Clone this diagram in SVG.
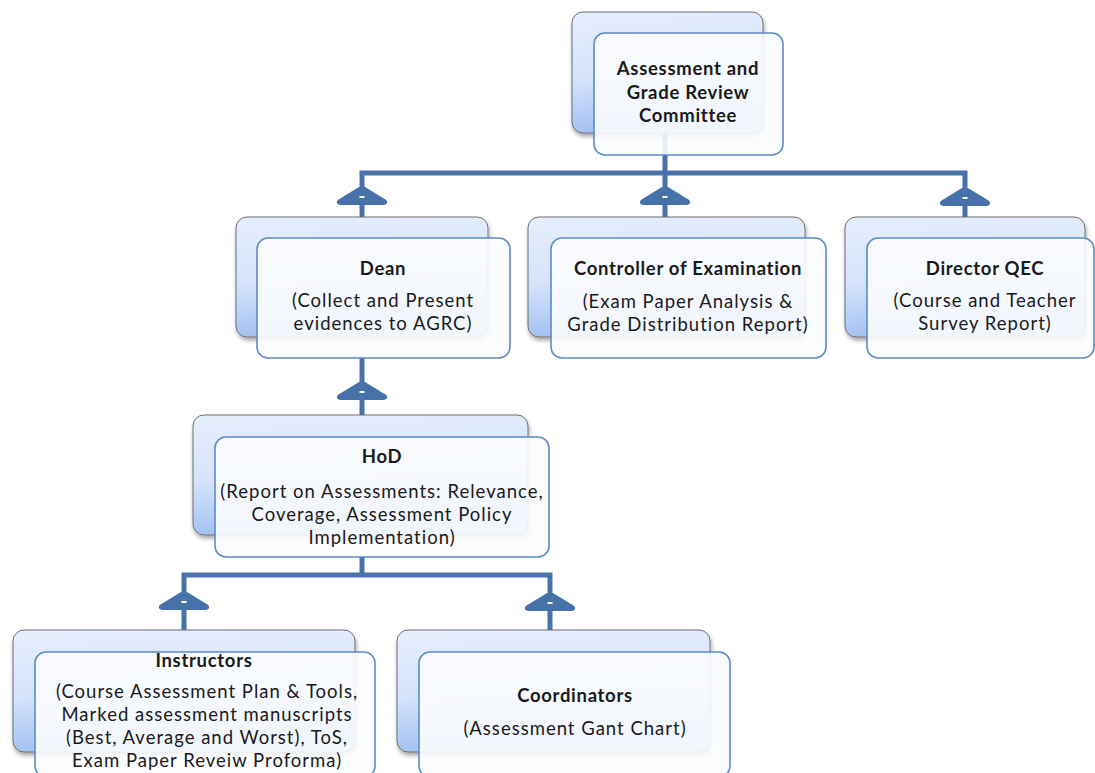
<svg xmlns="http://www.w3.org/2000/svg" width="1095" height="773" viewBox="0 0 1095 773">
<defs>
<linearGradient id="bg" x1="0" y1="0" x2="0.15" y2="1">
<stop offset="0" stop-color="#e6eefc"/>
<stop offset="0.55" stop-color="#d5e3fb"/>
<stop offset="1" stop-color="#a3c0f3"/>
</linearGradient>
<filter id="sh" x="-10%" y="-10%" width="130%" height="130%">
<feDropShadow dx="1" dy="3" stdDeviation="2" flood-color="#000" flood-opacity="0.35"/>
</filter>
<g id="arr">
<path d="M-3,0 L3,0 L21,11 Q26,13.5 25,16 Q24,18 20,18 L-20,18 Q-24,18 -25,16 Q-26,13.5 -21,11 Z" fill="#4672a9"/>
<rect x="-2.5" y="9" width="5" height="2" fill="#fff"/>
</g>
<style>
.back{fill:url(#bg);stroke:#6f6f6f;stroke-width:1;filter:url(#sh)}
.front{fill:#fbfcfe;fill-opacity:0.9;stroke:#5b8bc9;stroke-width:1.6}
.ln{stroke:#4672a9;stroke-width:5;fill:none}
text{font-family:Lato,"Open Sans","Liberation Sans",sans-serif;fill:#1a1a1a;text-anchor:middle}
.t{font-weight:bold;font-size:18.5px;letter-spacing:0.7px}
.s{font-size:18.5px;letter-spacing:1px}
</style>
</defs>
<rect width="1095" height="773" fill="#fff"/>
<g id="connectors">
<path class="ln" d="M665,133 V217 M362,217 V173 H965 V217"/>
<path class="ln" d="M362,358 V415"/>
<path class="ln" d="M362,557 V575 M184,630 V575 H550 V630"/>
<use href="#arr" x="362" y="187"/>
<use href="#arr" x="665" y="187"/>
<use href="#arr" x="965" y="188"/>
<use href="#arr" x="362" y="382"/>
<use href="#arr" x="184" y="592"/>
<use href="#arr" x="550" y="593"/>
</g>
<g id="agrc">
<rect class="back" x="572" y="12" width="191" height="121" rx="11"/>
<rect class="front" x="594" y="33" width="189" height="122" rx="11"/>
<text class="t" x="688" y="75">Assessment and</text>
<text class="t" x="688" y="99">Grade Review</text>
<text class="t" x="688" y="122">Committee</text>
</g>
<g id="dean">
<rect class="back" x="236" y="217" width="252" height="120" rx="11"/>
<rect class="front" x="257" y="238" width="253" height="120" rx="11"/>
<text class="t" x="383" y="275">Dean</text>
<text class="s" x="383" y="307">(Collect and Present</text>
<text class="s" x="383" y="330">evidences to AGRC)</text>
</g>
<g id="coe">
<rect class="back" x="528" y="217" width="277" height="120" rx="11"/>
<rect class="front" x="551" y="238" width="275" height="120" rx="11"/>
<text class="t" x="688" y="275">Controller of Examination</text>
<text class="s" x="688" y="308">(Exam Paper Analysis &amp;</text>
<text class="s" x="688" y="331">Grade Distribution Report)</text>
</g>
<g id="qec">
<rect class="back" x="845" y="217" width="240" height="120" rx="11"/>
<rect class="front" x="867" y="238" width="227" height="120" rx="11"/>
<text class="t" x="985" y="275">Director QEC</text>
<text class="s" x="985" y="307">(Course and Teacher</text>
<text class="s" x="985" y="330">Survey Report)</text>
</g>
<g id="hod">
<rect class="back" x="193" y="415" width="335" height="120" rx="11"/>
<rect class="front" x="215" y="437" width="334" height="120" rx="11"/>
<text class="t" x="382" y="463">HoD</text>
<text class="s" x="382" y="498">(Report on Assessments: Relevance,</text>
<text class="s" x="382" y="521">Coverage, Assessment Policy</text>
<text class="s" x="382" y="544">Implementation)</text>
</g>
<g id="instructors">
<rect class="back" x="13" y="630" width="342" height="122" rx="11"/>
<rect class="front" x="35" y="652" width="340" height="125" rx="11"/>
<text class="t" x="204" y="667">Instructors</text>
<text class="s" x="207" y="698">(Course Assessment Plan &amp; Tools,</text>
<text class="s" x="207" y="721">Marked assessment manuscripts</text>
<text class="s" x="207" y="744">(Best, Average and Worst), ToS,</text>
<text class="s" x="207" y="767">Exam Paper Reveiw Proforma)</text>
</g>
<g id="coordinators">
<rect class="back" x="397" y="630" width="313" height="122" rx="11"/>
<rect class="front" x="419" y="652" width="311" height="125" rx="11"/>
<text class="t" x="575" y="702">Coordinators</text>
<text class="s" x="575" y="735">(Assessment Gant Chart)</text>
</g>
</svg>
